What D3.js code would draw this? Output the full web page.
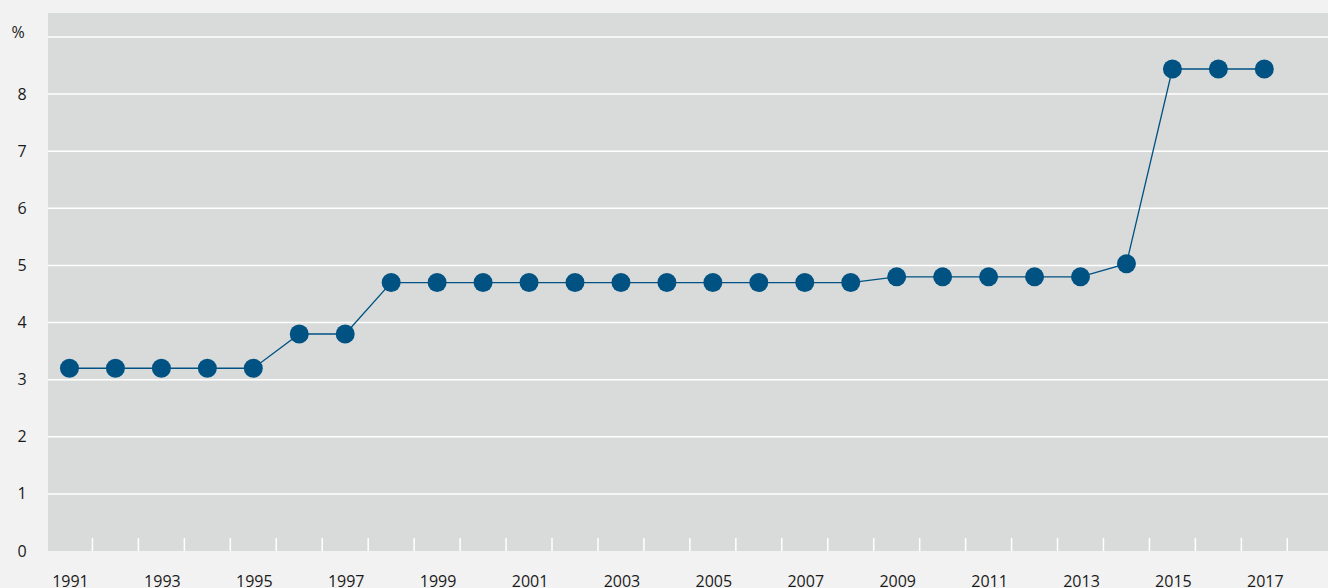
<!DOCTYPE html>
<html>
<head>
<meta charset="utf-8">
<script src="https://cdn.jsdelivr.net/npm/d3@7"></script>
<style>
	body { margin: 0; background: #f2f2f2; }
	text { font-family: "Open Sans", sans-serif; fill: #1a1a1a; }
</style>
</head>
<body>
<div id="graph"></div>
<script>
var years = d3.range(1991, 2018),
	rates = [3.2, 3.2, 3.2, 3.2, 3.2, 3.8, 3.8, 4.7, 4.7, 4.7, 4.7, 4.7, 4.7, 4.7,
		4.7, 4.7, 4.7, 4.7, 4.8, 4.8, 4.8, 4.8, 4.8, 5.03, 8.44, 8.44, 8.44],
	yTicks = [0, 1, 2, 3, 4, 5, 6, 7, 8],
	xLabels = years.filter(function(d) { return d % 2 === 1; });

var SVGwidth = 1328,
	SVGheight = 588,
	plot = {left: 48, right: 1328, top: 13, bottom: 551};

var data = years.map(function(d, i) { return {year: d, value: rates[i]}; });

var svg = d3.select('div#graph')
	.append('svg')
	.attr('width', SVGwidth)
	.attr('height', SVGheight)
	.style('display', 'block');

var x = d3.scaleBand()
	.domain(years)
	.range([46.5, 1287.3]);

var y = d3.scaleLinear()
	.domain([0, 9])
	.range([plot.bottom, 37]);

svg.append('rect')
	.attr('x', plot.left)
	.attr('y', plot.top)
	.attr('width', plot.right - plot.left)
	.attr('height', plot.bottom - plot.top)
	.attr('fill', '#d9dbdb');

// horizontal grid
svg.append('g')
	.selectAll('line')
	.data(yTicks.slice(1).concat([9]))
	.enter()
	.append('line')
	.attr('x1', plot.left)
	.attr('x2', plot.right)
	.attr('y1', function(d) { return y(d); })
	.attr('y2', function(d) { return y(d); })
	.attr('stroke', '#ffffff')
	.attr('stroke-width', 1.5);

// y labels
svg.append('g')
	.selectAll('text')
	.data(yTicks)
	.enter()
	.append('text')
	.attr('x', 22)
	.attr('y', function(d) { return y(d) + 5.5; })
	.attr('text-anchor', 'middle')
	.attr('font-size', 16)
	.text(function(d) { return d; });

svg.append('text')
	.attr('x', 18)
	.attr('y', 38)
	.attr('text-anchor', 'middle')
	.attr('font-size', 16)
	.text('%');

// x ticks at band edges
svg.append('g')
	.selectAll('line')
	.data(years)
	.enter()
	.append('line')
	.attr('x1', function(d) { return x(d) + x.bandwidth(); })
	.attr('x2', function(d) { return x(d) + x.bandwidth(); })
	.attr('y1', plot.bottom - 13)
	.attr('y2', plot.bottom)
	.attr('stroke', '#ffffff')
	.attr('stroke-width', 1.5);

svg.append('g')
	.selectAll('text')
	.data(xLabels)
	.enter()
	.append('text')
	.attr('x', function(d) { return x(d) + x.bandwidth() / 2 + 1; })
	.attr('y', 587)
	.attr('text-anchor', 'middle')
	.attr('font-size', 16)
	.text(function(d) { return d; });

var line = d3.line()
	.x(function(d) { return x(d.year) + x.bandwidth() / 2; })
	.y(function(d) { return y(d.value); });

svg.append('path')
	.datum(data)
	.attr('d', line)
	.attr('fill', 'none')
	.attr('stroke', '#005282')
	.attr('stroke-width', 1.3);

svg.append('g')
	.selectAll('circle')
	.data(data)
	.enter()
	.append('circle')
	.attr('cx', function(d) { return x(d.year) + x.bandwidth() / 2; })
	.attr('cy', function(d) { return y(d.value); })
	.attr('r', 9.5)
	.attr('fill', '#005282');
</script>
</body>
</html>
